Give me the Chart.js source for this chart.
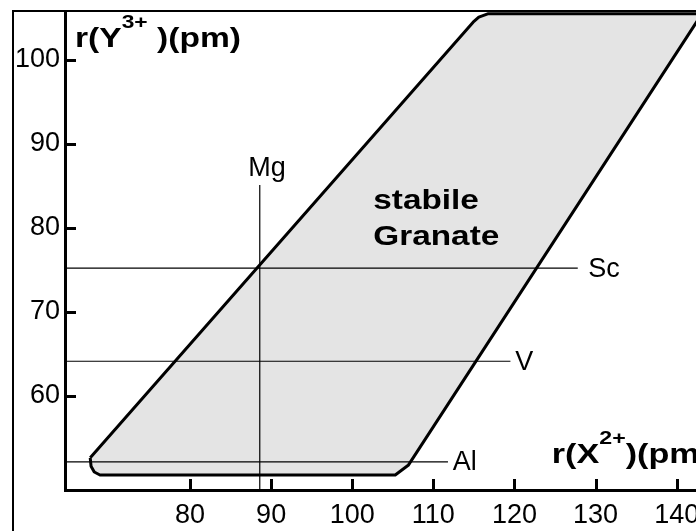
<!DOCTYPE html>
<html>
<head>
<meta charset="utf-8">
<script src="https://cdn.jsdelivr.net/npm/chart.js@4.4.1/dist/chart.umd.min.js"></script>
<style>
html, body { margin: 0; padding: 0; overflow: hidden; background: #fff; }
#wrap { width: 760px; height: 531px; }
</style>
</head>
<body>
<div id="wrap"><canvas id="chart" width="760" height="531"></canvas></div>
<script>
const xTicks = [80, 90, 100, 110, 120, 130, 140];
const yTicks = [60, 70, 80, 90, 100];

// outline of the stable garnet field, r(X2+) vs r(Y3+)
const fieldX = [67.7, 67.8, 68.2, 68.9, 105.3, 106.9, 143.1, 116.7, 115.6, 114.9, 67.7];
const fieldY = [52.6, 51.6, 50.9, 50.55, 50.55, 51.7, 105.5, 105.5, 105.1, 104.5, 52.6];

// Mg on the X site (vertical line)
const mgRadius = 88.6;
const mgTop = 85.1;

// ions on the Y site (horizontal lines)
const yIons = ['Sc', 'V', 'Al'];
const yIonRadius = [75.2, 64.1, 52.1];
const yIonLineEnd = [127.8, 119.5, 111.8];

const fontFamily = '"Liberation Sans", Arial, Helvetica, sans-serif';
Chart.defaults.font.family = fontFamily;
Chart.defaults.color = '#000';

function lineData(xs, ys) {
    return xs.map((x, i) => ({ x: x, y: ys[i] }));
}

const datasets = [];
datasets.push({
    label: 'Mg',
    data: lineData([mgRadius, mgRadius], [mgTop, 40]),
    borderColor: '#000',
    borderWidth: 1.2,
    showLine: true,
    pointRadius: 0,
    fill: false
});
yIons.forEach((name, i) => {
    datasets.push({
        label: name,
        data: lineData([60, yIonLineEnd[i]], [yIonRadius[i], yIonRadius[i]]),
        borderColor: '#000',
        borderWidth: 1.2,
        showLine: true,
        pointRadius: 0,
        fill: false
    });
});
// drawn first, so it sits under the ion lines
datasets.push({
    label: 'stabile Granate',
    data: lineData(fieldX, fieldY),
    borderColor: '#000',
    borderWidth: 3,
    borderJoinStyle: 'round',
    backgroundColor: '#e4e4e4',
    showLine: true,
    pointRadius: 0,
    fill: 'shape'
});

function boldRun(ctx, x, y, parts, stretch) {
    // parts: [text, isSuperscript]
    ctx.save();
    ctx.translate(x, y);
    ctx.scale(stretch, 1);
    ctx.textAlign = 'left';
    ctx.textBaseline = 'alphabetic';
    let cx = 0;
    for (const [t, sup] of parts) {
        ctx.font = sup ? 'bold 19px ' + fontFamily : 'bold 28px ' + fontFamily;
        ctx.fillText(t, cx, sup ? -19 : 0);
        cx += ctx.measureText(t).width;
    }
    ctx.restore();
}

const decorPlugin = {
    id: 'decor',
    afterDraw(chart) {
        const ctx = chart.ctx;
        const xs = chart.scales.x;
        const ys = chart.scales.y;
        const area = chart.chartArea;

        ctx.save();
        ctx.fillStyle = '#000';

        // frame round the figure
        ctx.fillRect(12, 10, chart.width, 2);
        ctx.fillRect(12, 10, 2, chart.height);

        // tick marks point into the plot
        xTicks.forEach(v => {
            const px = Math.round(xs.getPixelForValue(v));
            ctx.fillRect(px - 1, area.bottom - 11, 3, 11);
        });
        yTicks.forEach(v => {
            const py = Math.round(ys.getPixelForValue(v));
            ctx.fillRect(area.left, py - 1, 11, 3);
        });

        // ion labels
        ctx.font = '27px ' + fontFamily;
        ctx.textAlign = 'center';
        ctx.textBaseline = 'alphabetic';
        ctx.fillText('Mg', xs.getPixelForValue(mgRadius + 0.9), ys.getPixelForValue(mgTop + 1.1));
        ctx.textAlign = 'left';
        ctx.textBaseline = 'middle';
        const labelGap = [1.3, 0.6, 0.6];
        yIons.forEach((name, i) => {
            ctx.fillText(name, xs.getPixelForValue(yIonLineEnd[i] + labelGap[i]), ys.getPixelForValue(yIonRadius[i]) + 1);
        });

        // field label
        const fx = xs.getPixelForValue(102.6);
        boldRun(ctx, fx, ys.getPixelForValue(82.2), [['stabile', false]], 1.19);
        boldRun(ctx, fx, ys.getPixelForValue(78.0), [['Granate', false]], 1.19);

        // axis titles
        boldRun(ctx, area.left + 10, area.top + 35, [['r(Y', false], ['3+', true], [' )(pm)', false]], 1.2);
        boldRun(ctx, xs.getPixelForValue(124.6), ys.getPixelForValue(52.0), [['r(X', false], ['2+', true], [')(pm)', false]], 1.22);

        ctx.restore();
    }
};

new Chart(document.getElementById('chart'), {
    type: 'scatter',
    data: { datasets: datasets },
    options: {
        responsive: false,
        animation: false,
        layout: { padding: { left: 0, top: 12, right: 20, bottom: 0 } },
        plugins: {
            legend: { display: false },
            tooltip: { enabled: false }
        },
        scales: {
            x: {
                type: 'linear',
                min: 64.59,
                max: 147.8,
                grid: { display: false, drawTicks: false },
                border: { display: true, width: 3, color: '#000' },
                ticks: { font: { size: 27 }, padding: 9, color: '#000', maxRotation: 0 },
                afterBuildTicks: s => { s.ticks = xTicks.map(v => ({ value: v })); },
                afterFit: s => { s.height = 41; s.paddingLeft = 0; s.paddingRight = 0; }
            },
            y: {
                type: 'linear',
                min: 48.76,
                max: 105.72,
                grid: { display: false, drawTicks: false },
                border: { display: true, width: 3, color: '#000' },
                ticks: { font: { size: 27 }, padding: 5, color: '#000' },
                afterBuildTicks: s => { s.ticks = yTicks.map(v => ({ value: v })); },
                afterFit: s => { s.width = 65; s.paddingTop = 0; s.paddingBottom = 0; }
            }
        }
    },
    plugins: [decorPlugin]
});
</script>
</body>
</html>
